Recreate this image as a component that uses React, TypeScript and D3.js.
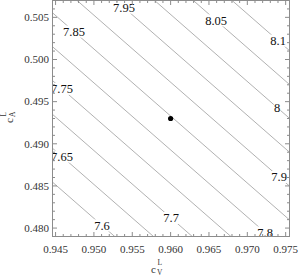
import React from "react";
import * as d3 from "d3";

// Contour levels and where each contour line meets the left and right frame edges (cA values)
const contourLevels = [7.6, 7.65, 7.7, 7.75, 7.8, 7.85, 7.9, 7.95, 8.0, 8.05, 8.1];
const contourLabels = ["7.6", "7.65", "7.7", "7.75", "7.8", "7.85", "7.9", "7.95", "8", "8.05", "8.1"];
const contourStartA = [0.48545, 0.48947, 0.49349, 0.4975, 0.50152, 0.50554, 0.50955, 0.51357, 0.51759, 0.5216, 0.52562];
const contourEndA = [0.46088, 0.4649, 0.46892, 0.47293, 0.47695, 0.48097, 0.48498, 0.489, 0.49302, 0.49703, 0.50105];
const labelV = [0.95106, 0.94584, 0.96006, 0.94584, 0.97232, 0.9474, 0.97414, 0.95393, 0.97388, 0.96593, 0.97401];

const pointV = [0.96];
const pointA = [0.493];

const xTicks = [0.945, 0.95, 0.955, 0.96, 0.965, 0.97, 0.975];
const yTicks = [0.48, 0.485, 0.49, 0.495, 0.5, 0.505];
const xDomain = [0.9446, 0.9755];
const yDomain = [0.479, 0.507];

const L = 52.5, R = 289.5, T = 0.5, B = 236.5;
const FONT = '"Liberation Serif", "DejaVu Serif", serif';

export default function App() {
  const x = d3.scaleLinear().domain(xDomain).range([L, R]);
  const y = d3.scaleLinear().domain(yDomain).range([B, T]);
  const fmt = d3.format(".3f");
  const xMinor = x.ticks(30);
  const yMinor = y.ticks(28);
  const frameColor = "#8c8c8c";
  const line = d3.line<[number, number]>().x((d) => x(d[0])).y((d) => y(d[1]));

  return (
    <svg width={300} height={277} fontFamily={FONT} style={{ position: "absolute", left: 0, top: 0, background: "#fff" }}>
      <defs>
        <clipPath id="plot">
          <rect x={L} y={T} width={R - L} height={B - T} />
        </clipPath>
      </defs>
      <g clipPath="url(#plot)">
        {contourLevels.map((lv, i) => (
          <path
            key={"c" + lv}
            d={line([
              [xDomain[0], contourStartA[i]],
              [xDomain[1], contourEndA[i]],
            ]) as string}
            fill="none"
            stroke="#a8a8a8"
            strokeWidth={0.9}
          />
        ))}
        {contourLevels.map((lv, i) => {
          const t = (labelV[i] - xDomain[0]) / (xDomain[1] - xDomain[0]);
          const a = contourStartA[i] + t * (contourEndA[i] - contourStartA[i]);
          const px = x(labelV[i]);
          const py = y(a);
          const w = contourLabels[i].length * 5.6 - 1;
          return (
            <g key={"l" + lv}>
              <rect x={px - w / 2 - 1} y={py - 6} width={w + 2} height={12} fill="#fff" />
              <text x={px} y={py + 4.3} fontFamily={FONT} fontSize={12.5} textAnchor="middle" fill="#111">
                {contourLabels[i]}
              </text>
            </g>
          );
        })}
      </g>
      {pointV.map((v, i) => (
        <circle key={"p" + i} cx={x(v)} cy={y(pointA[i])} r={2.6} fill="#000" />
      ))}
      <rect x={L} y={T} width={R - L} height={B - T} fill="none" stroke={frameColor} strokeWidth={1} />
      {xMinor.map((v) => {
        const major = xTicks.some((m) => Math.abs(m - v) < 1e-9);
        const len = major ? 4.5 : 2.5;
        return (
          <g key={"xt" + v}>
            <line x1={x(v)} x2={x(v)} y1={B} y2={B - len} stroke={frameColor} />
            <line x1={x(v)} x2={x(v)} y1={T} y2={T + len} stroke={frameColor} />
          </g>
        );
      })}
      {yMinor.map((v) => {
        const major = yTicks.some((m) => Math.abs(m - v) < 1e-9);
        const len = major ? 4.5 : 2.5;
        return (
          <g key={"yt" + v}>
            <line x1={L} x2={L + len} y1={y(v)} y2={y(v)} stroke={frameColor} />
            <line x1={R} x2={R - len} y1={y(v)} y2={y(v)} stroke={frameColor} />
          </g>
        );
      })}
      {xTicks.map((v) => (
        <text key={"xl" + v} x={x(v)} y={253} fontFamily={FONT} fontSize={11} textAnchor="middle" fill="#333">
          {fmt(v)}
        </text>
      ))}
      {yTicks.map((v) => (
        <text key={"yl" + v} x={49} y={y(v) + 3.8} fontFamily={FONT} fontSize={11} textAnchor="end" fill="#333">
          {fmt(v)}
        </text>
      ))}
      <g fill="#333" fontFamily={FONT}>
        <text x={151} y={273} fontSize={11}>c</text>
        <text x={157.5} y={265} fontSize={7.5}>L</text>
        <text x={157} y={274.5} fontSize={7.5}>V</text>
      </g>
      <g fill="#333" fontFamily={FONT} transform="translate(13,123) rotate(-90)">
        <text x={0} y={0} fontSize={11}>c</text>
        <text x={6.5} y={-7.5} fontSize={7.5}>L</text>
        <text x={6} y={2} fontSize={7.5}>A</text>
      </g>
    </svg>
  );
}
